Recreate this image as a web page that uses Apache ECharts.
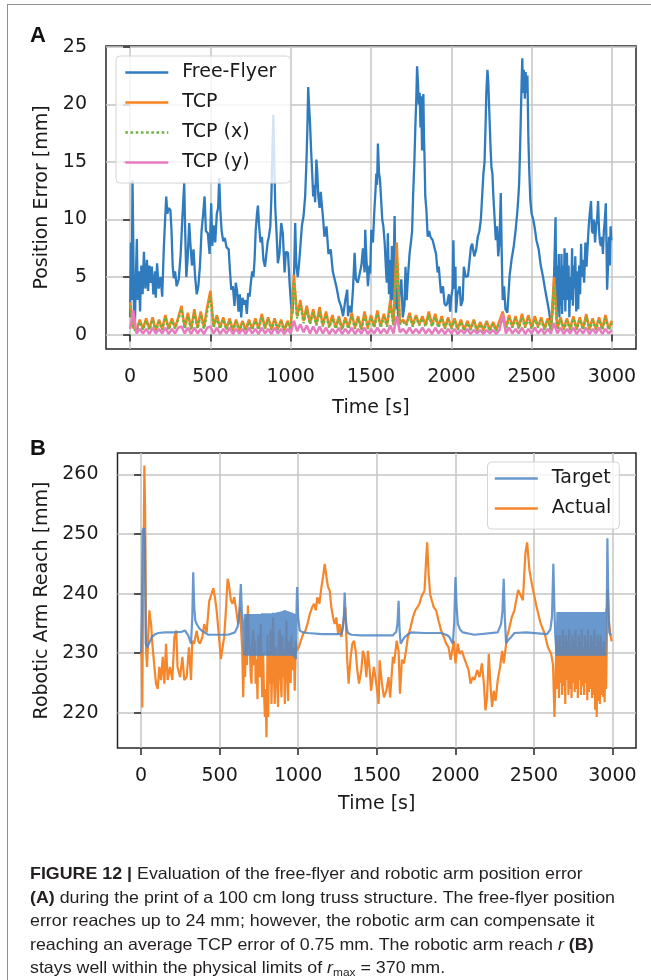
<!DOCTYPE html>
<html>
<head>
<meta charset="utf-8">
<script src="https://cdn.jsdelivr.net/npm/echarts@6/dist/echarts.min.js"></script>
<style>
  html, body { margin:0; padding:0; background:#fff; }
  #wrap { position:relative; width:651px; height:980px; overflow:hidden; background:#fff; }
  #frame { position:absolute; left:7px; top:4px; width:660px; height:990px; border-left:1.5px solid #8f8f8f; border-top:1.5px solid #8f8f8f; }
  #chart { position:absolute; left:0; top:0; width:651px; height:980px; }
  #caption { position:absolute; left:30px; top:862px; font-family:'Liberation Sans', Arial, sans-serif; font-size:16.5px; line-height:23.5px; color:#231f20; white-space:nowrap; transform-origin:0 0; transform:scaleX(1.08); }
  #caption b { font-weight:bold; }
  #caption sub { font-size:11px; vertical-align:-3px; line-height:0; }
</style>
</head>
<body>
<div id="wrap">
  <div id="frame"></div>
  <div id="chart"></div>
  <div id="caption"><b>FIGURE 12 |</b> Evaluation of the free-flyer and robotic arm position error<br><b>(A)</b> during the print of a 100 cm long truss structure. The free-flyer position<br>error reaches up to 24 mm; however, the robotic arm can compensate it<br>reaching an average TCP error of 0.75 mm. The robotic arm reach <i>r</i> <b>(B)</b><br>stays well within the physical limits of <i>r</i><sub>max</sub> = 370 mm.</div>
</div>
<script>
// ---------- DATA ----------
const timeTicks = [0, 500, 1000, 1500, 2000, 2500, 3000];
const errorTicks = [0, 5, 10, 15, 20, 25];
const reachTicks = [220, 230, 240, 250, 260];

// Panel A: Free-Flyer position error [time s, error mm]
const freeFlyer = [
[0,1.5],[5,8],[10,3],[15,13.4],[19,9],[24,2],[30,0.8],[36,5],[42,8.3],[48,3],[55,5.5],[62,2],[70,6],[78,3.5],[86,7.2],[95,4],[105,6.5],[112,3.8],[120,6],[128,4.5],[135,5.9],[145,3.5],[155,5.5],[160,3.2],[168,6.2],[178,4],[190,5],[200,3.3],[210,7.5],[218,10],[225,12],[232,10.5],[240,11],[251,10.8],[258,9],[265,6],[272,4.9],[280,5.5],[290,4.2],[303,4.8],[315,7],[325,10],[337,13.2],[343,9],[350,5],[358,6.5],[368,9.7],[375,8],[385,6],[395,7.4],[405,5],[415,3.5],[425,4.2],[435,6],[445,9],[455,10.5],[464,12],[472,9],[484,8.8],[495,7],[505,11.4],[512,7.7],[520,9.5],[530,8],[540,10.5],[548,11],[555,13.6],[562,10.8],[570,9],[580,8.1],[590,8.4],[600,7.6],[614,7.4],[622,5.5],[630,3.9],[640,4.2],[650,2.5],[658,4.5],[666,3.8],[675,2],[683,3.5],[692,1.5],[700,3.2],[710,2.6],[718,3],[727,1.8],[735,3.6],[744,3.3],[752,4.5],[760,5.5],[768,5],[775,6.5],[782,9],[790,10.5],[796,11.2],[803,9.5],[812,8],[821,8.5],[830,6.5],[840,5.9],[847,6.8],[856,8],[864,8.5],[873,9.4],[880,12],[886,16],[892,19.1],[898,15],[904,11],[912,8.8],[920,6.2],[930,7],[941,9.7],[951,8.8],[962,5.4],[970,7.2],[983,7.1],[993,4.5],[1003,2.5],[1010,1.8],[1018,3.5],[1028,9.7],[1035,6],[1044,5],[1054,6.5],[1062,8],[1070,9.5],[1080,10.3],[1090,12],[1098,15],[1104,18],[1109,21.5],[1114,20],[1120,18.5],[1127,16],[1134,14],[1140,12],[1146,13],[1152,11.5],[1160,15.2],[1166,14],[1172,12],[1180,11],[1187,12.4],[1195,12.3],[1202,10],[1210,8.5],[1223,9.4],[1235,7],[1249,7.4],[1262,5.5],[1274,5.4],[1287,4],[1300,3],[1313,2.5],[1326,1.6],[1340,3],[1352,3.9],[1357,1.6],[1366,2.5],[1378,1.9],[1388,4],[1398,7.1],[1406,4.8],[1418,4.5],[1430,4.5],[1440,6],[1450,7.5],[1460,5.4],[1464,9.1],[1472,6.5],[1481,4.2],[1490,6],[1495,5.3],[1502,9.1],[1512,8],[1521,10.8],[1528,12.5],[1533,14],[1538,13],[1543,16.6],[1550,14],[1556,13.5],[1562,12],[1570,10],[1577,9.4],[1585,8],[1592,6],[1598,4.5],[1605,8.8],[1612,3.5],[1618,6.5],[1624,2.2],[1630,7.7],[1636,3],[1641,6],[1647,10.3],[1652,5],[1658,2.2],[1663,4],[1669,1.5],[1678,3.6],[1689,4.8],[1698,1.5],[1708,2.5],[1715,5.9],[1722,3],[1730,5],[1740,7],[1750,8.2],[1756,9],[1762,12],[1770,15],[1776,18],[1782,20.5],[1787,23.3],[1792,22],[1797,20],[1803,21],[1808,18],[1812,20.7],[1818,16],[1826,20.9],[1830,17],[1833,15.6],[1838,12],[1845,10.8],[1853,8.5],[1862,9],[1870,8.5],[1884,8.2],[1896,8.2],[1905,7],[1915,5.4],[1922,5.9],[1930,4.5],[1936,3.6],[1948,4.2],[1958,2.7],[1967,2.5],[1974,2.7],[1985,3.5],[1993,2],[2000,3.3],[2008,4],[2013,8.2],[2018,4],[2026,5.9],[2029,1.9],[2038,3.5],[2052,4.2],[2060,2.5],[2071,3],[2078,5.9],[2090,5],[2104,5.1],[2114,6.5],[2122,7.6],[2130,7.9],[2143,6.8],[2155,7.4],[2165,8.5],[2175,9],[2184,10],[2192,12],[2200,14],[2207,15],[2213,18],[2218,21],[2225,23],[2230,22],[2235,20],[2240,18],[2245,16],[2250,14.5],[2256,14],[2262,12],[2268,10.5],[2277,8.2],[2285,9.4],[2292,6.8],[2300,8],[2308,12.3],[2314,7],[2320,3],[2329,4.2],[2337,2.2],[2349,1.9],[2356,3.5],[2363,5.1],[2375,6.5],[2389,7.7],[2400,9],[2410,10.5],[2415,11.4],[2422,13],[2428,16],[2433,19],[2438,22],[2442,24],[2447,21],[2452,23],[2458,20.5],[2463,22.8],[2468,21],[2474,22.5],[2480,17],[2486,14],[2492,11.7],[2500,10.5],[2510,10],[2518,9.4],[2530,8.2],[2544,7.4],[2557,6],[2570,5.1],[2583,4],[2596,3],[2609,2],[2622,0.7],[2630,2],[2638,4],[2645,8],[2649,10.2],[2653,4],[2657,1.2],[2661,6],[2665,2],[2669,7],[2673,1.5],[2677,5.3],[2681,2.5],[2686,7],[2690,1.8],[2695,6],[2700,3],[2705,7.5],[2710,2],[2715,6.5],[2720,7.1],[2725,3],[2730,6],[2735,1.5],[2741,5],[2746,3],[2752,7.5],[2757,2.5],[2763,6],[2768,4],[2772,6.8],[2778,2],[2784,5.5],[2790,2.2],[2796,6],[2802,3.5],[2808,7.9],[2813,5],[2820,6.5],[2827,4.5],[2835,8],[2842,5.9],[2850,8],[2856,9.5],[2862,10.5],[2870,11.6],[2876,9],[2882,8.8],[2888,10],[2895,8],[2902,9.5],[2908,10],[2914,11.6],[2920,9],[2926,8],[2932,7.7],[2938,8.5],[2944,7],[2950,9],[2956,10],[2962,11.4],[2966,8],[2970,3.9],[2976,6],[2982,8.5],[2987,6],[2992,9.4],[2996,8.2]
];

// Panel A: TCP errors sampled every tcpStep seconds, starting at t = 0
const tcpStep = 20;
const tcpNorm = [
2.8,0.6,0.4,1.3,0.5,1.4,0.5,1.5,0.4,1.3,
0.5,1.7,0.5,1.4,0.6,1.5,2.5,0.6,1.9,0.5,
2.2,0.6,2.0,0.6,2.4,3.8,0.7,1.7,0.6,1.5,
0.5,1.4,0.4,1.3,0.4,1.2,0.4,1.3,0.5,1.4,
0.5,1.8,0.6,1.5,0.5,1.4,0.5,1.3,0.4,1.2,
0.5,5.2,1.6,3.0,1.2,2.5,1.0,2.2,0.9,2.4,
0.8,2.0,0.7,1.7,0.6,1.6,0.5,1.5,0.6,1.9,
0.6,1.6,0.5,2.0,0.6,1.7,0.7,2.1,0.7,1.8,
0.8,3.0,0.9,8.0,1.0,1.3,0.9,1.9,0.8,1.7,
0.9,1.6,0.8,2.0,0.8,1.8,0.7,1.6,0.6,1.5,
0.6,1.4,0.5,1.3,0.4,1.2,0.5,1.3,0.4,1.1,
0.4,1.2,0.4,1.1,0.4,1.2,2.0,0.6,1.7,0.7,
1.6,0.6,1.8,0.7,1.7,0.6,1.6,0.7,1.5,0.5,
1.4,0.5,5.0,0.5,1.5,0.5,1.4,0.5,1.6,0.5,
1.5,0.5,1.8,0.5,1.4,0.5,1.5,0.5,1.7,0.5,
1.2];
const tcpX = [
2.5,0.5,0.3,1.1,0.4,1.2,0.4,1.3,0.3,1.1,
0.4,1.5,0.4,1.2,0.5,1.3,2.2,0.5,1.6,0.4,
1.9,0.5,1.7,0.5,2.0,3.3,0.6,1.5,0.5,1.3,
0.4,1.2,0.3,1.1,0.3,1.0,0.3,1.1,0.4,1.2,
0.4,1.5,0.5,1.3,0.4,1.2,0.4,1.1,0.3,1.0,
0.4,4.6,1.4,2.6,1.0,2.1,0.9,1.9,0.8,2.0,
0.7,1.7,0.6,1.4,0.5,1.4,0.4,1.3,0.5,1.6,
0.5,1.4,0.4,1.7,0.5,1.5,0.6,1.8,0.6,1.5,
0.7,2.6,0.8,6.5,0.9,1.1,0.8,1.6,0.7,1.5,
0.8,1.4,0.7,1.7,0.7,1.5,0.6,1.4,0.5,1.3,
0.5,1.2,0.4,1.1,0.3,1.0,0.4,1.1,0.3,0.9,
0.3,1.0,0.3,0.9,0.3,1.0,1.3,0.5,1.4,0.6,
1.4,0.5,1.5,0.6,1.4,0.5,1.3,0.6,1.3,0.4,
1.2,0.4,4.2,0.4,1.3,0.4,1.2,0.4,1.4,0.4,
1.3,0.4,1.5,0.4,1.2,0.4,1.3,0.4,1.4,0.4,
1.0];
const tcpY = [
0.5,2.1,0.1,0.5,0.1,0.5,0.05,0.6,0.1,0.5,
0.1,0.6,0.05,0.5,0.1,0.6,0.7,0.1,0.6,0.05,
0.6,0.1,0.5,0.05,0.6,0.7,0.1,0.6,0.05,0.5,
0.1,0.6,0.05,0.5,0.1,0.5,0.05,0.6,0.1,0.5,
0.05,0.6,0.1,0.5,0.05,0.6,0.1,0.5,0.05,0.5,
0.1,1.2,0.3,0.9,0.2,0.8,0.1,0.7,0.1,0.7,
0.1,0.6,0.05,0.5,0.1,0.6,0.05,0.5,0.1,0.6,
0.05,0.5,0.1,0.6,0.05,0.5,0.1,0.6,0.1,0.5,
0.1,0.8,0.1,1.6,0.2,0.5,0.1,0.6,0.1,0.5,
0.1,0.6,0.1,0.5,0.05,0.6,0.1,0.5,0.05,0.5,
0.1,0.5,0.05,0.4,0.1,0.5,0.05,0.4,0.1,0.4,
0.05,0.4,0.1,0.4,0.05,0.4,1.8,0.1,0.6,0.1,
0.5,0.1,0.6,0.05,0.5,0.1,0.6,0.1,0.5,0.05,
0.5,0.1,1.0,0.1,0.6,0.05,0.5,0.1,0.6,0.05,
0.5,0.1,0.6,0.05,0.5,0.1,0.6,0.05,0.5,0.1,
0.4];

// Panel B: robotic arm reach [time s, reach mm]
const reachTarget = [
[0,230],[5,236],[10,250.6],[18,251],[24,249.5],[30,231.6],[40,231],[47,231],[68,232.7],[90,233.2],[110,233.4],[150,233.5],[200,233.5],[258,233.6],[280,233.8],[300,233],[318,231.6],[326,236],[332,243.6],[338,238],[345,235.5],[354,234.9],[370,234.2],[385,233.8],[428,233.1],[500,233.1],[555,233.1],[597,233.5],[615,234.5],[625,236.5],[635,241.6],[643,236],[650,233.8],
[655,229.7],[660,236.6],[665,229.6],[670,236.6],[675,229.6],[680,236.6],[685,229.6],[690,236.6],[695,229.6],[700,236.6],[705,229.6],[710,236.6],[715,229.6],[720,236.6],[725,229.6],[730,236.6],[735,229.6],[740,236.6],[745,229.6],[750,236.6],[755,229.6],[760,236.6],[765,229.6],[770,236.7],[775,229.6],[780,236.7],[785,229.6],[790,236.7],[795,229.6],[800,236.7],[805,229.6],[810,236.7],[815,229.6],[820,236.7],[825,229.6],[830,236.7],[835,229.6],[840,236.8],[845,229.6],[850,236.8],[855,229.6],[860,236.8],[865,229.6],[870,236.9],[875,229.6],[880,236.9],[885,229.6],[890,237],[895,229.6],[900,237.1],[905,229.6],[910,237.2],[915,229.6],[920,237.2],[925,229.6],[930,237.1],[935,229.6],[940,237],[945,229.6],[950,236.9],[955,229.6],[960,236.8],[965,229.6],[970,236.7],[975,229.3],[980,236.6],[985,229],[989,236.5],
[993,241.1],[1000,236],[1010,233.8],[1030,233.5],[1063,233.4],[1150,233.2],[1275,233.2],[1285,234.5],[1291,236.5],[1296,240.2],[1302,236],[1310,234],[1317,233.4],[1338,233.1],[1400,233],[1518,233],[1603,233],[1624,233.6],[1632,235],[1639,238.8],[1645,234],[1652,231.6],[1665,232.2],[1677,232.7],[1700,233.2],[1720,233.5],[1800,233.4],[1910,233.4],[1950,233],[1963,232.7],[1984,231.6],[1993,235],[2001,242.8],[2008,238],[2016,234.9],[2030,234],[2048,233.5],[2121,233.1],[2270,233.5],[2291,234.9],[2300,237],[2308,242.5],[2315,236],[2323,231.7],[2340,232.3],[2355,232.7],[2376,233.4],[2450,233.5],[2584,233.2],[2605,234],[2615,236],[2624,245],[2630,238],[2636,233],
[2645,229.6],[2650,236.9],[2655,229.6],[2660,236.9],[2665,229.6],[2670,236.9],[2675,229.6],[2680,236.9],[2685,229.6],[2690,236.9],[2695,229.6],[2700,236.9],[2705,229.6],[2710,236.9],[2715,229.6],[2720,236.9],[2725,229.6],[2730,236.9],[2735,229.6],[2740,236.9],[2745,229.6],[2750,236.9],[2755,229.6],[2760,236.9],[2765,229.6],[2770,236.9],[2775,229.6],[2780,236.9],[2785,229.6],[2790,236.9],[2795,229.6],[2800,236.9],[2805,229.6],[2810,236.9],[2815,229.6],[2820,236.9],[2825,229.6],[2830,236.9],[2835,229.6],[2840,236.9],[2845,229.6],[2850,236.9],[2855,229.6],[2860,236.9],[2865,229.6],[2870,236.9],[2875,229.6],[2880,236.9],[2885,229.6],[2890,236.9],[2895,229.6],[2900,236.9],[2905,229.6],[2910,236.9],[2915,229.6],[2920,236.9],[2925,229.6],[2930,236.9],[2935,229.6],[2940,236.9],[2945,229.6],[2950,236.9],[2955,229.6],[2960,236.9],
[2964,238],[2968,249.3],[2973,240],[2980,233.5],[2990,233]
];
const reachActual = [
[0,230.4],[4,229],[8,220.9],[13,240],[17,249.5],[21,261.5],[25,255],[28,247.2],[32,230.4],[38,227.7],[47,233.8],[53,237.2],[58,236],[64,234.8],[72,231.5],[85,227.7],[95,224.9],[106,224],[116,227.7],[127,225.5],[138,229.4],[148,224.9],[159,231.6],[169,225.5],[184,227.7],[199,225.5],[212,232.7],[224,233.8],[232,227.7],[248,226],[263,229.4],[275,225.5],[290,226],[305,231],[318,225.5],[326,232.1],[337,231.6],[354,233.8],[365,232],[375,231.6],[390,232.7],[402,234.9],[417,233.5],[434,238.8],[449,240],[460,240.9],[470,239.4],[481,237.2],[496,232.7],[508,229],[519,231],[529,232.7],[540,237.2],[551,242.5],[559,241.6],[572,238.8],[582,238.3],[593,239.4],[597,238.8],[618,234.9],[629,237.7],[644,230.5],
[650,222.6],[656,230],[662,226],[668,236],[674,228],[680,238],[686,232],[693,230.5],[698,226],[703,224.9],[708,232],[714,234],[720,228],[726,232],[729,224.9],[735,229],[741,222.3],[747,233],[752,227],[756,226],[762,235],[767,228],[771,222.6],[777,230],[782,224],[788,219.3],[793,224],[798,215.9],[803,226],[805,233],[809,219.3],[814,230],[820,224.9],[825,234],[830,221.5],[836,230],[841,236],[846,226],[851,221.5],[856,231],[862,229.4],[867,224],[872,221],[877,232],[883,234],[888,226],[894,222.6],[899,233],[904,226],[909,230],[915,221.5],[920,231],[925,235.5],[930,226],[936,222],[941,232],[947,228.9],[952,225],[957,233],[962,228],[968,227.2],[973,231],[978,223.7],[985,232.1],[991,230.4],
[1004,231],[1017,232.1],[1031,233.2],[1046,233.8],[1059,234.9],[1074,236.6],[1089,237.7],[1101,238.3],[1112,237.2],[1122,239.4],[1135,238.3],[1148,241.1],[1158,242.8],[1169,245],[1180,242.8],[1190,241.1],[1201,240.5],[1211,237.7],[1222,236],[1232,234.9],[1243,236],[1254,233.2],[1264,234.9],[1275,232.7],[1286,232.7],[1300,237.7],[1311,229.4],[1321,224.9],[1334,229.4],[1345,231.6],[1355,232.1],[1366,230.4],[1376,227.2],[1387,224.9],[1402,227.2],[1412,230.4],[1423,229.4],[1434,226],[1444,230.4],[1455,227.2],[1464,223.7],[1482,227.7],[1497,224.9],[1512,221.5],[1518,228.8],[1533,224.9],[1546,222.6],[1561,223.7],[1575,226],[1585,222.6],[1603,229.4],[1610,228.3],[1627,232.1],[1639,230.4],[1648,223.2],[1660,228.9],[1673,228.3],[1686,230.4],[1698,232.7],[1715,234.3],[1730,236],[1745,237.2],[1758,237.7],[1772,238.3],[1783,239.4],[1794,239.4],[1804,240.5],[1815,246.1],[1821,248.6],[1830,243.3],[1840,239.9],[1851,238.8],[1863,237.7],[1878,237.2],[1893,235.5],[1910,233.8],[1927,232.7],[1942,231.6],[1957,231],[1970,228.9],[1980,230.4],[1991,232.1],[2001,228.3],[2016,231.6],[2027,229.9],[2042,230.4],[2054,229.4],[2069,228.3],[2084,227.2],[2097,224.9],[2111,226],[2122,225.5],[2139,227.2],[2154,226],[2169,228.3],[2182,224.9],[2192,220.4],[2202,222.6],[2213,229.9],[2223,224.9],[2234,221],[2245,223.7],[2256,222],[2270,225.5],[2285,227.7],[2298,230.4],[2308,228.3],[2318,230.4],[2329,232.7],[2344,234.3],[2359,236],[2376,237.2],[2400,240.6],[2430,238.9],[2446,246.7],[2457,248.6],[2472,243.9],[2491,241.1],[2517,237.8],[2543,235],[2570,233.2],[2589,231],[2610,229.9],[2622,228],[2631,219.3],[2638,226],
[2645,233],[2650,224],[2655,232],[2660,222.5],[2665,233],[2670,225],[2675,231],[2680,223],[2685,234],[2690,224.5],[2695,232],[2700,221.5],[2705,233],[2710,225.5],[2715,232],[2720,223],[2725,234],[2730,224],[2735,231],[2740,222.5],[2745,233],[2750,225],[2755,232],[2760,223.5],[2765,234],[2770,224],[2775,231],[2780,222.5],[2785,233],[2790,225.5],[2795,232],[2800,223],[2805,234],[2810,224.5],[2815,231],[2820,223],[2825,233],[2830,225],[2835,232],[2840,222.1],[2845,234],[2850,223.5],[2855,231],[2860,224],[2865,233],[2870,222.5],[2875,232],[2880,223],[2885,234],[2890,220.5],[2895,231],[2900,219.3],[2905,233],[2910,222],[2915,232],[2920,221.5],[2925,233],[2930,223],[2935,231],[2940,222.7],[2945,232],[2950,221.8],[2955,230],[2960,224],
[2965,233],[2970,240.6],[2975,236],[2985,233.5],[2995,232]
];

// ---------- CHART ----------
const FONT = 'DejaVu Sans';
const toPairs = (vals) => vals.map((v, i) => [i * tcpStep, v]);
const plainNum = (v) => String(v);

function xAxisCfg(gridIndex, nameGap) {
  return {
    type: 'value', gridIndex: gridIndex, min: -150, max: 3150,
    name: 'Time [s]', nameLocation: 'middle', nameGap: nameGap,
    nameTextStyle: { fontFamily: FONT, fontSize: 19, color: '#1a1a1a' },
    axisLine: { show: false },
    axisTick: { show: true, length: 7, customValues: timeTicks, lineStyle: { color: '#262626', width: 1.5 } },
    axisLabel: { customValues: timeTicks, formatter: plainNum, margin: 19, fontFamily: FONT, fontSize: 19, color: '#1a1a1a' },
    splitLine: { show: true, lineStyle: { color: '#c4c4c4', width: 1.5 } }
  };
}
function yAxisCfg(gridIndex, min, max, ticks, name, nameGap) {
  return {
    type: 'value', gridIndex: gridIndex, min: min, max: max,
    name: name, nameLocation: 'middle', nameGap: nameGap,
    nameTextStyle: { fontFamily: FONT, fontSize: 19, color: '#1a1a1a' },
    axisLine: { show: false },
    axisTick: { show: true, length: 7, customValues: ticks, lineStyle: { color: '#262626', width: 1.5 } },
    axisLabel: { customValues: ticks, formatter: plainNum, margin: 19, fontFamily: FONT, fontSize: 19, color: '#1a1a1a' },
    splitLine: { show: true, lineStyle: { color: '#c4c4c4', width: 1.5 } }
  };
}
const legendCommon = {
  orient: 'vertical', itemWidth: 43, itemHeight: 14, itemGap: 11,
  backgroundColor: 'rgba(255,255,255,0.8)', borderColor: '#d4d4d4', borderWidth: 1, borderRadius: 4,
  itemStyle: { opacity: 0 },
  lineStyle: { width: 2.6 },
  textStyle: { fontFamily: FONT, fontSize: 19, color: '#1a1a1a', padding: [0, 0, 0, 9] }
};

const chart = echarts.init(document.getElementById('chart'), null, { renderer: 'canvas' });
const option = {
  animation: false,
  backgroundColor: 'transparent',
  grid: [
    { left: 106, right: 15, top: 46, height: 303, show: true, borderColor: '#262626', borderWidth: 1.5, backgroundColor: 'transparent' },
    { left: 117.5, right: 15, top: 453, height: 295, show: true, borderColor: '#262626', borderWidth: 1.5, backgroundColor: 'transparent' }
  ],
  xAxis: [ xAxisCfg(0, 50), xAxisCfg(1, 47) ],
  yAxis: [
    yAxisCfg(0, -1.25, 25.07, errorTicks, 'Position Error [mm]', 53),
    yAxisCfg(1, 214.1, 263.6, reachTicks, 'Robotic Arm Reach [mm]', 57)
  ],
  legend: [
    Object.assign({}, legendCommon, { data: ['Free-Flyer', 'TCP', 'TCP (x)', 'TCP (y)'], left: 116, top: 56, padding: [7, 14, 11, 8] }),
    Object.assign({}, legendCommon, { data: ['Target', 'Actual'], left: 487.5, top: 462, padding: [7, 8, 11, 6] })
  ],
  graphic: [
    { type: 'text', left: 30, top: 25, style: { text: 'A', font: 'bold 22px "Liberation Sans", Arial, sans-serif', fill: '#111' } },
    { type: 'text', left: 30, top: 438, style: { text: 'B', font: 'bold 22px "Liberation Sans", Arial, sans-serif', fill: '#111' } }
  ],
  series: [
    { name: 'Free-Flyer', type: 'line', xAxisIndex: 0, yAxisIndex: 0, data: freeFlyer, symbol: 'none',
      lineStyle: { color: '#2f7bbd', width: 2.3 }, itemStyle: { color: '#2f7bbd' } },
    { name: 'TCP', type: 'line', xAxisIndex: 0, yAxisIndex: 0, data: toPairs(tcpNorm), symbol: 'none',
      lineStyle: { color: '#f7831f', width: 2.5 }, itemStyle: { color: '#f7831f' } },
    { name: 'TCP (x)', type: 'line', xAxisIndex: 0, yAxisIndex: 0, data: toPairs(tcpX), symbol: 'none',
      lineStyle: { color: '#6cb33f', width: 2.4, type: 'dotted' }, itemStyle: { color: '#6cb33f' } },
    { name: 'TCP (y)', type: 'line', xAxisIndex: 0, yAxisIndex: 0, data: toPairs(tcpY), symbol: 'none',
      lineStyle: { color: '#e87bbf', width: 2.5 }, itemStyle: { color: '#e87bbf' } },
    { name: 'Actual', type: 'line', xAxisIndex: 1, yAxisIndex: 1, data: reachActual, symbol: 'none',
      lineStyle: { color: '#f5862b', width: 2.2 }, itemStyle: { color: '#f5862b' } },
    { name: 'Target', type: 'line', xAxisIndex: 1, yAxisIndex: 1, data: reachTarget, symbol: 'none',
      lineStyle: { color: '#4f86c6', width: 2.2, opacity: 0.85 }, itemStyle: { color: '#6998cf' } }
  ]
};
chart.setOption(option);
</script>
</body>
</html>
